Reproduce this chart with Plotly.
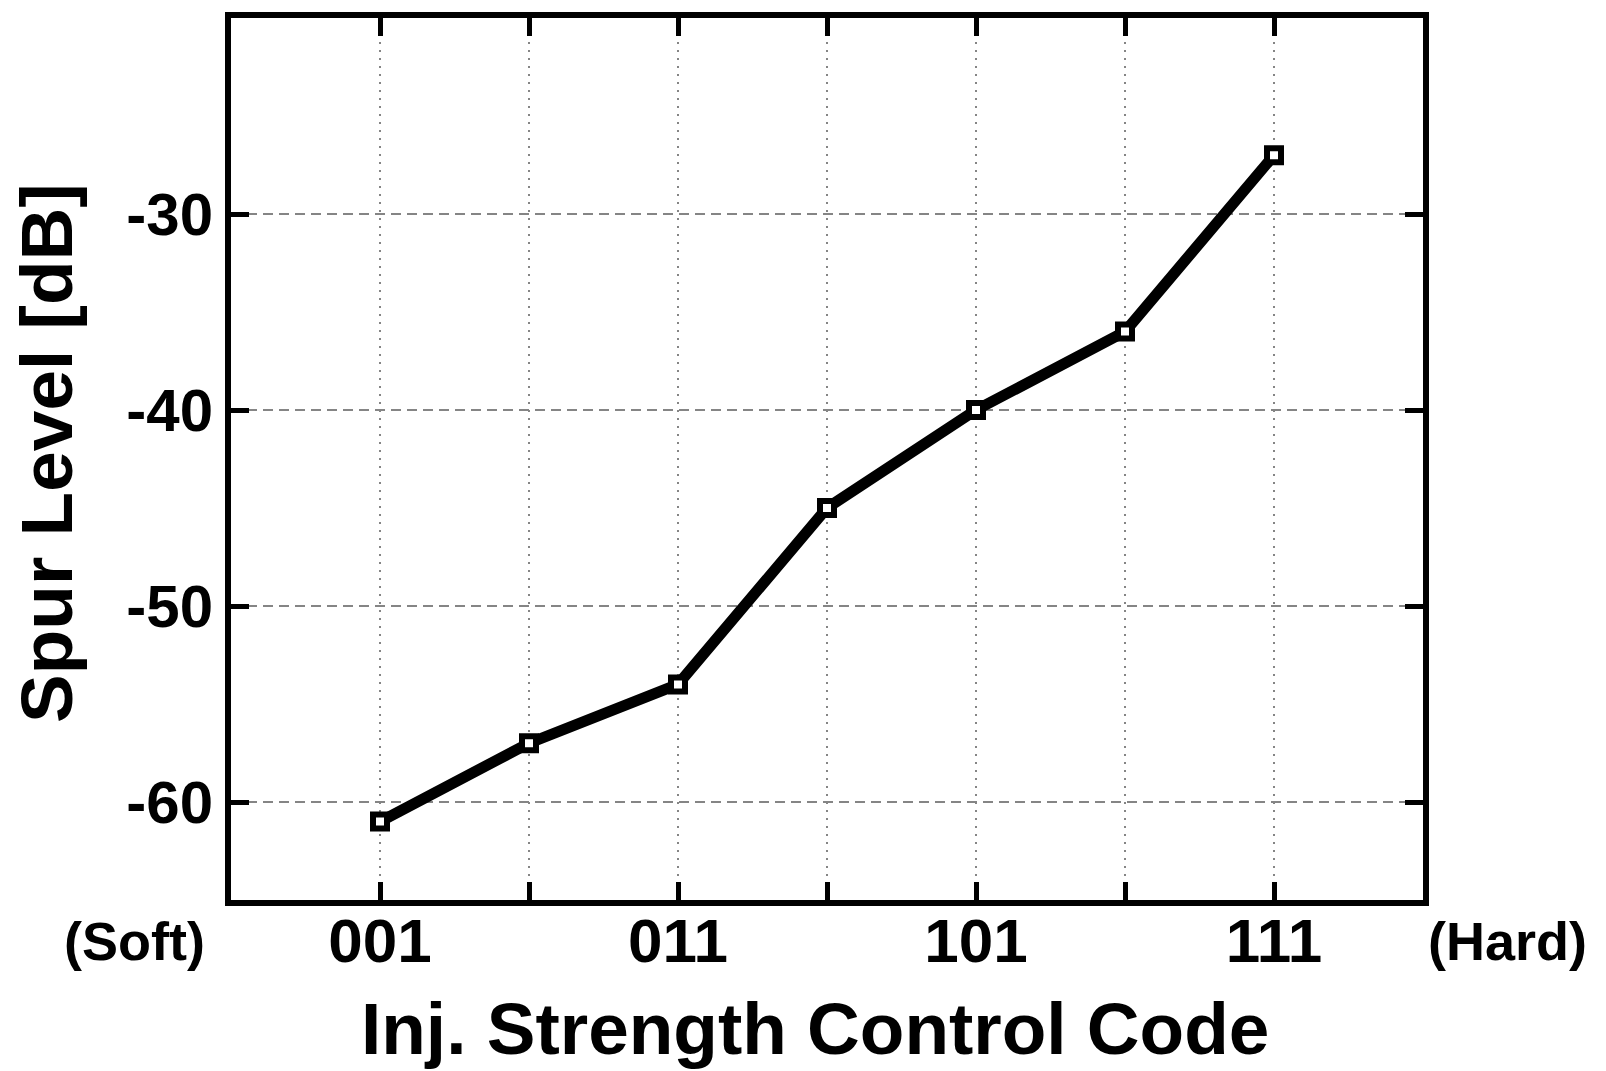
import plotly.graph_objects as go

# Injection strength control codes and measured spur levels
codes = ["001", "010", "011", "100", "101", "110", "111"]
spur_db = [-61, -57, -54, -45, -40, -36, -27]
code_labels = ["001", "", "011", "", "101", "", "111"]
y_ticks = [-60, -50, -40, -30]
y_labels = ["-60", "-50", "-40", "-30"]

FONT = "Liberation Sans, Arial, sans-serif"

fig = go.Figure()
fig.add_trace(go.Scatter(
    x=codes, y=spur_db, mode="lines+markers",
    line=dict(color="black", width=11),
    marker=dict(symbol="square", size=14, color="white",
                line=dict(color="black", width=6)),
    cliponaxis=False, showlegend=False,
))

axis_common = dict(
    showline=True, linecolor="black", linewidth=6, mirror="ticks",
    ticks="inside", ticklen=18, tickwidth=5, tickcolor="black",
    showgrid=True, gridcolor="#858585", gridwidth=2, zeroline=False,
)

fig.update_xaxes(
    type="category", categoryorder="array", categoryarray=codes,
    range=[-1, 7], tickvals=codes, ticktext=code_labels,
    griddash="2px,6px",
    tickfont=dict(family=FONT, size=62, color="black", weight="bold"),
    ticklabelstandoff=-18,
    **axis_common,
)
fig.update_yaxes(
    range=[-65, -20], tickvals=y_ticks, ticktext=y_labels,
    griddash="10px,6px",
    tickfont=dict(family=FONT, size=60, color="black", weight="bold"),
    ticklabelstandoff=0,
    **axis_common,
)

fig.update_layout(
    width=1606, height=1071,
    margin=dict(l=231, r=183, t=12, b=171),
    plot_bgcolor="white", paper_bgcolor="white",
    font=dict(family=FONT, color="black"),
    annotations=[
        dict(text="<b>Inj. Strength Control Code</b>", xref="paper", yref="paper",
             x=0.49, y=-0.146, xanchor="center", yanchor="middle", showarrow=False,
             font=dict(size=73, family=FONT)),
        dict(text="<b>Spur Level [dB]</b>", xref="paper", yref="paper",
             x=-0.155, y=0.506, xanchor="center", yanchor="middle", showarrow=False,
             textangle=-90, font=dict(size=73, family=FONT)),
        dict(text="<b>(Soft)</b>", xref="paper", yref="paper",
             x=-0.081, y=-0.047, xanchor="center", yanchor="middle", showarrow=False,
             font=dict(size=54, family=FONT)),
        dict(text="<b>(Hard)</b>", xref="paper", yref="paper",
             x=1.0705, y=-0.047, xanchor="center", yanchor="middle", showarrow=False,
             font=dict(size=54, family=FONT)),
    ],
)

fig.write_html("out.html")
